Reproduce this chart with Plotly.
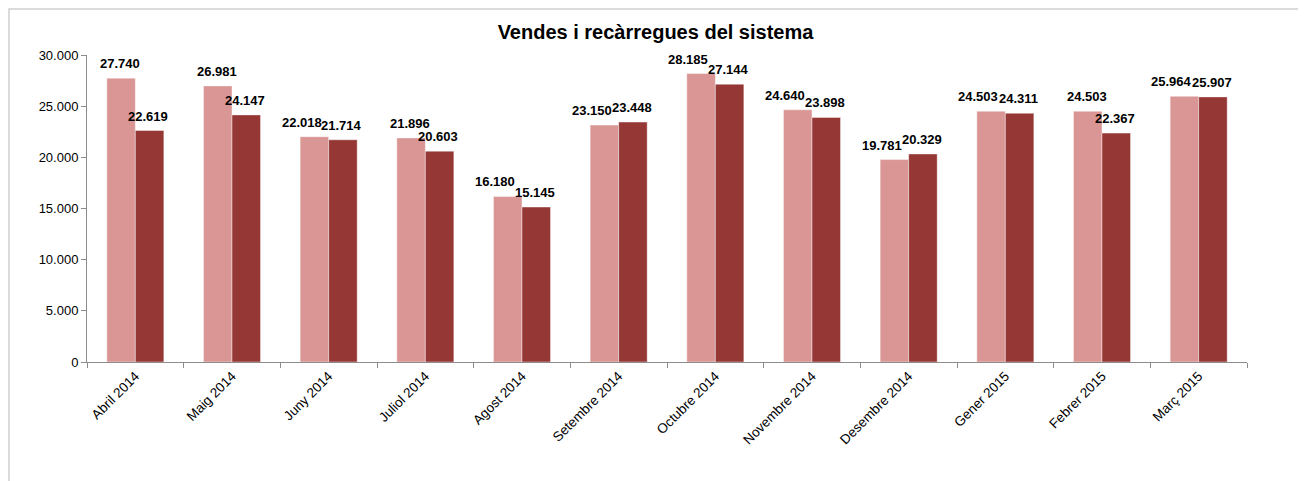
import plotly.graph_objects as go

categories = ["Abril 2014", "Maig 2014", "Juny 2014", "Juliol 2014", "Agost 2014",
              "Setembre 2014", "Octubre 2014", "Novembre 2014", "Desembre 2014",
              "Gener 2015", "Febrer 2015", "Març 2015"]
vendes = [27740, 26981, 22018, 21896, 16180, 23150, 28185, 24640, 19781, 24503, 24503, 25964]
recarregues = [22619, 24147, 21714, 20603, 15145, 23448, 27144, 23898, 20329, 24311, 22367, 25907]
y_ticks = [0, 5000, 10000, 15000, 20000, 25000, 30000]

FONT = "Liberation Sans, Arial, sans-serif"

W, H = 1295, 473
ML, MR, MT, MB = 79, 56, 47, 119
PW, PH = W - ML - MR, H - MT - MB
YMAX = 30000


def fmt(v):
    return f"{v:,}".replace(",", ".")


fig = go.Figure()
for vals, color, name in [(vendes, "#D99694", "Vendes"), (recarregues, "#953735", "Recàrregues")]:
    fig.add_trace(go.Bar(
        x=categories, y=vals, name=name,
        marker=dict(color=color, line=dict(color="rgba(255,255,255,0.7)", width=0.6)),
        hoverinfo="x+y",
    ))

annotations = []
for cat, a, b in zip(categories, vendes, recarregues):
    diff_px = abs(a - b) * PH / YMAX
    dark_shift = 13
    pink_shift = -27 if diff_px < 12 else -15
    for val, xs in [(a, pink_shift), (b, dark_shift)]:
        annotations.append(dict(
            x=cat, y=val, xref="x", yref="y", text=fmt(val), showarrow=False,
            xanchor="center", yanchor="bottom", xshift=xs, yshift=5,
            font=dict(family=FONT, size=13, color="black", weight="bold"),
        ))

fig.update_layout(
    width=W, height=H,
    margin=dict(l=ML, r=MR, t=MT, b=MB),
    paper_bgcolor="white", plot_bgcolor="white",
    separators=",.",
    showlegend=False,
    barmode="group", bargap=0.41, bargroupgap=0,
    title=dict(text="<b>Vendes i recàrregues del sistema</b>", x=0.5, xanchor="center",
               y=1 - 24 / H, yanchor="middle",
               font=dict(family=FONT, size=20, color="black")),
    font=dict(family=FONT, size=13, color="black"),
    xaxis=dict(showline=True, linecolor="#8c8c8c", linewidth=1, automargin=False,
               ticks="outside", tickson="boundaries", ticklen=5, tickcolor="#8c8c8c",
               tickangle=-45, tickfont=dict(family=FONT, size=13.5, color="black"),
               showgrid=False),
    yaxis=dict(range=[0, YMAX], tickvals=y_ticks, tickformat=",", automargin=False,
               showline=True, linecolor="#8c8c8c", linewidth=1,
               ticks="outside", ticklen=5, tickcolor="#8c8c8c",
               tickfont=dict(family=FONT, size=13, color="black"),
               showgrid=False, zeroline=False),
    annotations=annotations,
    shapes=[dict(type="rect", xref="paper", yref="paper",
                 x0=-(ML - 1) / PW, x1=1 + (MR - 1) / PW,
                 y0=-(MB + 10) / PH, y1=1 + (MT - 1) / PH,
                 line=dict(color="#d0d0d0", width=1.5), fillcolor="rgba(0,0,0,0)")],
)

fig.write_html("out.html")
